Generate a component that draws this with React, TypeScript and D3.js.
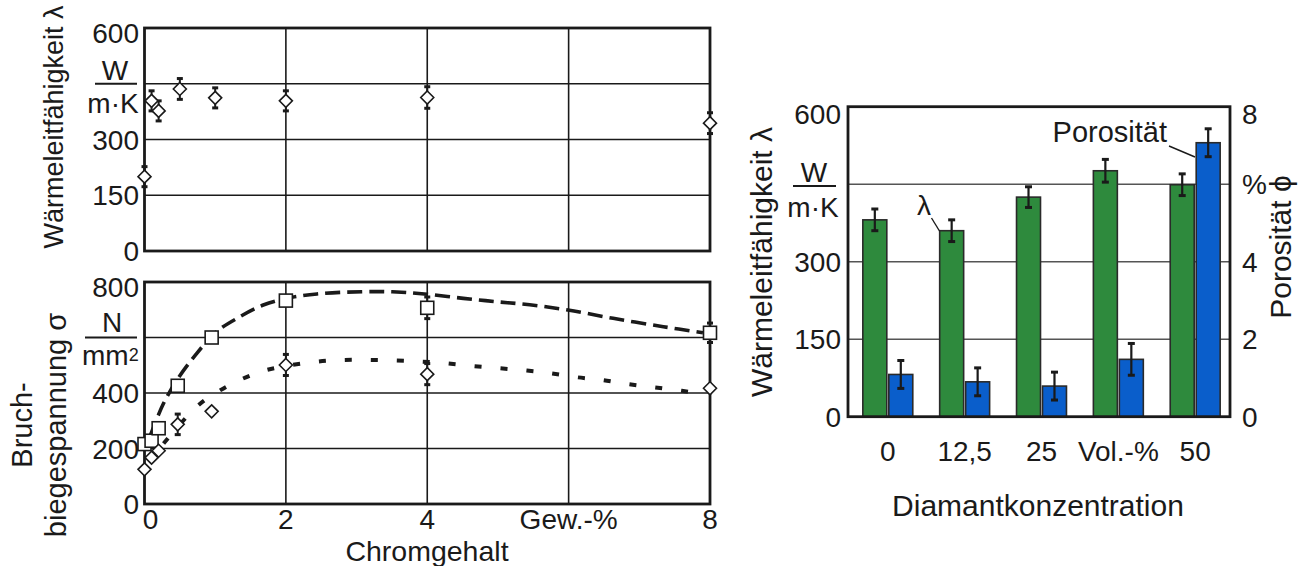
import React from "react";
import * as d3 from "d3";

// ---------- Data ----------
// Top-left: Wärmeleitfähigkeit vs Chromgehalt
const chromX = [0, 0.1, 0.2, 0.5, 1, 2, 4, 8];
const lambdaChrom = [200, 404, 377, 436, 412, 404, 413, 344];
const lambdaChromErr = [27, 27, 27, 28, 27, 27, 29, 28];

// Bottom-left: Bruchbiegespannung (squares & diamonds)
const sigmaSqX = [0, 0.1, 0.2, 0.47, 0.95, 2, 4, 8];
const sigmaSq = [216, 228, 273, 426, 600, 733, 707, 617];
const sigmaSqErr = [0, 0, 0, 0, 0, 0, 39, 35];
const sigmaDiX = [0, 0.1, 0.2, 0.47, 0.95, 2, 4, 8];
const sigmaDi = [125, 167, 192, 287, 334, 501, 468, 417];
const sigmaDiErr = [0, 0, 0, 37, 0, 38, 38, 0];

// fitted curves
const upperCurveX = [0.08, 0.18, 0.27, 0.46, 0.74, 1.02, 1.35, 1.68, 2.01, 2.44, 3.09, 3.57, 4.0, 4.51, 4.98, 5.45, 5.99, 6.63, 7.34, 7.9];
const upperCurveY = [245, 310, 363, 447, 543, 621, 675, 717, 741, 757, 765, 764, 756, 741, 729, 718, 699, 669, 639, 617];
const lowerCurveX = [0.27, 0.74, 1.04, 1.35, 1.73, 2.44, 2.81, 3.19, 3.57, 3.92, 4.27, 4.65, 5.03, 5.41, 5.74, 6.11, 6.47, 6.84, 7.22, 7.6, 7.9];
const lowerCurveY = [218, 351, 405, 447, 483, 513, 519, 519, 517, 513, 507, 497, 489, 481, 471, 457, 447, 432, 420, 408, 396];

const topYTicks = [0, 150, 300, 600];
const botYTicks = [0, 200, 400, 800];
const chromGrid = [2, 4, 6];
const chromTickVals = [0, 2, 4, 6, 8];
const chromTickLabels = ["0", "2", "4", "Gew.-%", "8"];

// Right: bar chart
const categories = ["0", "12,5", "25", "Vol.-%", "50"];
const lambdaBar = [381, 360, 425, 476, 449];
const lambdaBarErr = [21, 21, 20, 22, 21];
const porosity = [1.09, 0.9, 0.79, 1.48, 7.07];
const porosityErr = [0.36, 0.36, 0.36, 0.41, 0.36];
const rightLTicks = [0, 150, 300, 600];
const rightRTickVals = [0, 2, 4, 6, 8];
const rightRTickLabels = ["0", "2", "4", "%", "8"];

const FONT = "'Liberation Sans', Arial, Helvetica, sans-serif";
const GREEN = "#2e8a3d";
const BLUE = "#0a5ecb";
const INK = "#1a1a1a";

export default function App() {
  // left scales
  const x = d3.scaleLinear().domain([0, 8]).range([144.5, 710]);
  const yTop = d3.scaleLinear().domain([0, 600]).range([251, 28]);
  const yBot = d3.scaleLinear().domain([0, 800]).range([504, 282]);

  // right scales
  const xb = d3.scaleBand<string>().domain(categories).range([849, 1234]).paddingInner(0.35).paddingOuter(0.18);
  const yL = d3.scaleLinear().domain([0, 600]).range([416.7, 106.7]);
  const yR = d3.scaleLinear().domain([0, 8]).range([416.7, 106.7]);
  const bw = xb.bandwidth();
  const half = (bw - 2) / 2;

  const upperLine = d3
    .line<number>()
    .x((_, i) => x(upperCurveX[i]))
    .y((d) => yBot(d))
    .curve(d3.curveCatmullRom.alpha(0.5))(upperCurveY) as string;
  const lowerLine = d3
    .line<number>()
    .x((_, i) => x(lowerCurveX[i]))
    .y((d) => yBot(d))
    .curve(d3.curveCatmullRom.alpha(0.5))(lowerCurveY) as string;

  const diamond = (cx: number, cy: number, key: string) => (
    <path
      key={key}
      d={`M${cx},${cy - 6.5}L${cx + 6.5},${cy}L${cx},${cy + 6.5}L${cx - 6.5},${cy}Z`}
      fill="#fff"
      stroke={INK}
      strokeWidth={1.6}
    />
  );
  const square = (cx: number, cy: number, key: string) => (
    <rect key={key} x={cx - 6.5} y={cy - 6.5} width={13} height={13} fill="#fff" stroke={INK} strokeWidth={1.6} />
  );
  const errBar = (cx: number, y1: number, y2: number, key: string, cap = 6, w = 2) => (
    <g key={key} stroke={INK}>
      <line x1={cx} x2={cx} y1={y1} y2={y2} strokeWidth={w} />
      <line x1={cx - cap / 2} x2={cx + cap / 2} y1={y1} y2={y1} strokeWidth={3} />
      <line x1={cx - cap / 2} x2={cx + cap / 2} y1={y2} y2={y2} strokeWidth={3} />
    </g>
  );

  const [x0, x1] = x.range();

  return (
    <svg
      width={1304}
      height={566}
      style={{ position: "absolute", left: 0, top: 0, background: "#fff" }}
      fontFamily={FONT}
    >
      <rect x={0} y={0} width={1304} height={566} fill="#fff" />

      {/* ================= LEFT TOP ================= */}
      <g>
        {[150, 300, 450].map((t) => (
          <line key={"tg" + t} x1={x0} x2={x1} y1={yTop(t)} y2={yTop(t)} stroke={INK} strokeWidth={1.6} />
        ))}
        {chromGrid.map((g) => (
          <line key={"tv" + g} x1={x(g)} x2={x(g)} y1={yTop(600)} y2={yTop(0)} stroke={INK} strokeWidth={1.6} />
        ))}
        <rect x={x0} y={yTop(600)} width={x1 - x0} height={yTop(0) - yTop(600)} fill="none" stroke={INK} strokeWidth={2.8} />
        {topYTicks.map((t) => (
          <text key={"tt" + t} x={139} y={yTop(t) + (t === 600 ? 5 : 0)} dy="0.36em" textAnchor="end" fontSize={28} fill={INK}>
            {t}
          </text>
        ))}
        <text x={115} y={70} dy="0.36em" textAnchor="middle" fontSize={28} fill={INK}>W</text>
        <line x1={95} x2={137} y1={yTop(450)} y2={yTop(450)} stroke={INK} strokeWidth={1.8} />
        <text x={113} y={103} dy="0.36em" textAnchor="middle" fontSize={28} fill={INK}>m·K</text>
        <text transform="translate(62.5,127) rotate(-90)" textAnchor="middle" fontSize={27} fill={INK}>
          Wärmeleitfähigkeit λ
        </text>

        {chromX.map((cx, i) =>
          errBar(x(cx), yTop(lambdaChrom[i] + lambdaChromErr[i]), yTop(lambdaChrom[i] - lambdaChromErr[i]), "te" + i)
        )}
        {chromX.map((cx, i) => diamond(x(cx), yTop(lambdaChrom[i]), "td" + i))}
      </g>

      {/* ================= LEFT BOTTOM ================= */}
      <g>
        {[200, 400, 600].map((t) => (
          <line key={"bg" + t} x1={x0} x2={x1} y1={yBot(t)} y2={yBot(t)} stroke={INK} strokeWidth={1.6} />
        ))}
        {chromGrid.map((g) => (
          <line key={"bv" + g} x1={x(g)} x2={x(g)} y1={yBot(800)} y2={yBot(0)} stroke={INK} strokeWidth={1.6} />
        ))}
        <rect x={x0} y={yBot(800)} width={x1 - x0} height={yBot(0) - yBot(800)} fill="none" stroke={INK} strokeWidth={2.8} />
        {botYTicks.map((t) => (
          <text key={"bt" + t} x={139} y={yBot(t) + (t === 800 ? 5 : 0)} dy="0.36em" textAnchor="end" fontSize={28} fill={INK}>
            {t}
          </text>
        ))}
        <text x={112} y={322} dy="0.36em" textAnchor="middle" fontSize={28} fill={INK}>N</text>
        <line x1={85} x2={137} y1={yBot(600)} y2={yBot(600)} stroke={INK} strokeWidth={1.8} />
        <text x={82} y={355} dy="0.36em" textAnchor="start" fontSize={28} fill={INK}>
          mm<tspan fontSize={18} dy="-0.2em">2</tspan>
        </text>
        <text transform="translate(31.7,425) rotate(-90)" textAnchor="middle" fontSize={29} fill={INK}>
          Bruch-
        </text>
        <text transform="translate(65.6,425) rotate(-90)" textAnchor="middle" fontSize={29} fill={INK}>
          biegespannung σ
        </text>
        {chromTickVals.map((v, i) => (
          <text key={"bx" + v} x={x(v) + (v === 0 ? 6 : 0)} y={529} textAnchor="middle" fontSize={28} fill={INK}>
            {chromTickLabels[i]}
          </text>
        ))}
        <text x={427} y={561} textAnchor="middle" fontSize={28.5} fill={INK}>Chromgehalt</text>

        <path d={upperLine} fill="none" stroke={INK} strokeWidth={3.6} strokeDasharray="15 7" />
        <path d={lowerLine} fill="none" stroke={INK} strokeWidth={4} strokeDasharray="7 19" />

        {sigmaSqX.map((cx, i) =>
          sigmaSqErr[i] > 0
            ? errBar(x(cx), yBot(sigmaSq[i] + sigmaSqErr[i]), yBot(sigmaSq[i] - sigmaSqErr[i]), "se" + i)
            : null
        )}
        {sigmaDiX.map((cx, i) =>
          sigmaDiErr[i] > 0
            ? errBar(x(cx), yBot(sigmaDi[i] + sigmaDiErr[i]), yBot(sigmaDi[i] - sigmaDiErr[i]), "de" + i)
            : null
        )}
        {sigmaSqX.map((cx, i) => square(x(cx), yBot(sigmaSq[i]), "sq" + i))}
        {sigmaDiX.map((cx, i) => diamond(x(cx), yBot(sigmaDi[i]), "di" + i))}
      </g>

      {/* ================= RIGHT ================= */}
      <g>
        {[150, 300, 450].map((t) => (
          <line key={"rg" + t} x1={848} x2={1230} y1={yL(t)} y2={yL(t)} stroke="#555" strokeWidth={1.6} />
        ))}
        {categories.map((c, i) => {
          const bx = xb(c) as number;
          return (
            <g key={"bar" + i}>
              <rect x={bx} y={yL(lambdaBar[i])} width={half} height={yL(0) - yL(lambdaBar[i])} fill={GREEN} stroke="#2a2a2a" strokeWidth={1.6} />
              <rect x={bx + half + 2} y={yR(porosity[i])} width={half} height={yR(0) - yR(porosity[i])} fill={BLUE} stroke="#2a2a2a" strokeWidth={1.6} />
              {errBar(bx + half / 2, yL(lambdaBar[i] + lambdaBarErr[i]), yL(lambdaBar[i] - lambdaBarErr[i]), "ge" + i, 7, 2.2)}
              {errBar(bx + half + 2 + half / 2, yR(porosity[i] + porosityErr[i]), yR(porosity[i] - porosityErr[i]), "be" + i, 7, 2.2)}
            </g>
          );
        })}
        <rect x={848} y={yL(600)} width={1230 - 848} height={yL(0) - yL(600)} fill="none" stroke={INK} strokeWidth={2.8} />

        {rightLTicks.map((t) => (
          <text key={"rl" + t} x={841} y={yL(t) + (t === 600 ? 7 : 0)} dy="0.36em" textAnchor="end" fontSize={28} fill={INK}>
            {t}
          </text>
        ))}
        <text x={814} y={172} dy="0.36em" textAnchor="middle" fontSize={28} fill={INK}>W</text>
        <line x1={793} x2={836} y1={186} y2={186} stroke={INK} strokeWidth={1.8} />
        <text x={813} y={207} dy="0.36em" textAnchor="middle" fontSize={28} fill={INK}>m·K</text>
        <text transform="translate(772,262) rotate(-90)" textAnchor="middle" fontSize={30} fill={INK}>
          Wärmeleitfähigkeit λ
        </text>

        {rightRTickVals.map((v, i) => (
          <text key={"rr" + v} x={1242} y={yR(v) + (v === 8 ? 7 : 0)} dy="0.36em" textAnchor="start" fontSize={28} fill={INK}>
            {rightRTickLabels[i]}
          </text>
        ))}
        <text transform="translate(1291,247) rotate(-90)" textAnchor="middle" fontSize={30} fill={INK}>
          Porosität ϕ
        </text>

        {categories.map((c) => (
          <text key={"cx" + c} x={(xb(c) as number) + bw / 2} y={461} textAnchor="middle" fontSize={28} fill={INK}>
            {c}
          </text>
        ))}
        <text x={1038} y={516} textAnchor="middle" fontSize={30} fill={INK}>Diamantkonzentration</text>

        <text x={924} y={215} textAnchor="middle" fontSize={28} fill={INK}>λ</text>
        <line x1={931.5} y1={218} x2={939.5} y2={231} stroke={INK} strokeWidth={1.4} />
        <text x={1167} y={142} textAnchor="end" fontSize={29} fill={INK}>Porosität</text>
        <line x1={1169} y1={146} x2={1195} y2={157} stroke={INK} strokeWidth={1.4} />
      </g>
    </svg>
  );
}
